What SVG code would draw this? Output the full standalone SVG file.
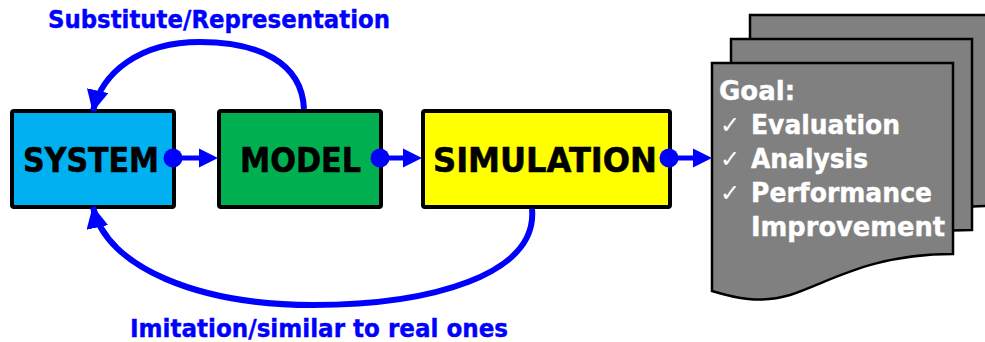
<svg xmlns="http://www.w3.org/2000/svg" width="985" height="342" viewBox="0 0 985 342">
<style>
.box{stroke:#000;stroke-width:4}
.lbl{font-family:"DejaVu Sans","Verdana",sans-serif;font-weight:bold;fill:#000;stroke:#000;stroke-width:0.6}
.blue{font-family:"DejaVu Sans","Verdana",sans-serif;font-weight:bold;fill:#0000FF;stroke:#0000FF;stroke-width:0.4;font-size:24px}
.doc{fill:#808080;stroke:#000;stroke-width:2.5}
.gt{font-family:"DejaVu Sans","Verdana",sans-serif;font-weight:bold;fill:#fff;stroke:#fff;stroke-width:0.4;font-size:26px}
.ck{font-family:"DejaVu Sans",sans-serif;font-weight:normal;fill:#fff;font-size:24px}
.con{stroke:#0000FF;fill:none}
</style>
<defs>
<marker id="ah" markerUnits="userSpaceOnUse" markerWidth="22" markerHeight="22" refX="19" refY="10" orient="auto" viewBox="0 0 20 20">
<path d="M0,0 L20,10 L0,20 Z" fill="#0000FF"/>
</marker>
</defs>
<g id="goal">
<path class="doc" transform="translate(38,-48)" d="M712,63 H953 V254 C870,254 830,282 790,295 C760,304 735,298 712,291 Z"/>
<path class="doc" transform="translate(19,-24)" d="M712,63 H953 V254 C870,254 830,282 790,295 C760,304 735,298 712,291 Z"/>
<path class="doc" d="M712,63 H953 V254 C870,254 830,282 790,295 C760,304 735,298 712,291 Z"/>
<text class="gt" x="719" y="100">Goal:</text>
<text class="ck" x="720" y="133">✓</text>
<text class="gt" x="751" y="134" textLength="149" lengthAdjust="spacingAndGlyphs">Evaluation</text>
<text class="ck" x="720" y="167">✓</text>
<text class="gt" x="751" y="168" textLength="117" lengthAdjust="spacingAndGlyphs">Analysis</text>
<text class="ck" x="720" y="201">✓</text>
<text class="gt" x="751" y="202" textLength="181" lengthAdjust="spacingAndGlyphs">Performance</text>
<text class="gt" x="751" y="236" textLength="194" lengthAdjust="spacingAndGlyphs">Improvement</text>
</g>
<g id="system">
<rect class="box" x="12" y="111" width="162" height="96" rx="2" fill="#00B0F0"/>
<text class="lbl" x="23" y="172" font-size="34" textLength="136" lengthAdjust="spacingAndGlyphs">SYSTEM</text>
</g>
<g id="model">
<rect class="box" x="219" y="111" width="162" height="96" rx="2" fill="#00B050"/>
<text class="lbl" x="240" y="172" font-size="34" textLength="121" lengthAdjust="spacingAndGlyphs">MODEL</text>
</g>
<g id="simulation">
<rect class="box" x="423" y="111" width="247" height="96" rx="2" fill="#FFFF00"/>
<text class="lbl" x="433" y="172" font-size="34" textLength="224" lengthAdjust="spacingAndGlyphs">SIMULATION</text>
</g>
<g id="connectors">
<circle cx="173" cy="158" r="9.5" fill="#0000FF"/>
<line class="con" x1="173" y1="158" x2="200" y2="158" stroke-width="5"/>
<path d="M199,148.5 L218,158 L199,167.5 Z" fill="#0000FF"/>
<circle cx="380" cy="158" r="9.5" fill="#0000FF"/>
<line class="con" x1="380" y1="158" x2="404" y2="158" stroke-width="5"/>
<path d="M403,148.5 L422,158 L403,167.5 Z" fill="#0000FF"/>
<circle cx="669" cy="158" r="9.5" fill="#0000FF"/>
<line class="con" x1="669" y1="158" x2="694" y2="158" stroke-width="5"/>
<path d="M693,148.5 L712,158 L693,167.5 Z" fill="#0000FF"/>
<path class="con" stroke-width="6" d="M304,109 C302,62 258,42 200,42 C140,42 102,72 93,111" marker-end="url(#ah)"/>
<path class="con" stroke-width="6" d="M532,209 C538,275 430,305 313,305 C200,305 106,268 93,207" marker-end="url(#ah)"/>
</g>
<text class="blue" x="48" y="28" textLength="342" lengthAdjust="spacingAndGlyphs">Substitute/Representation</text>
<text class="blue" x="130" y="337" textLength="378" lengthAdjust="spacingAndGlyphs">Imitation/similar to real ones</text>
</svg>
